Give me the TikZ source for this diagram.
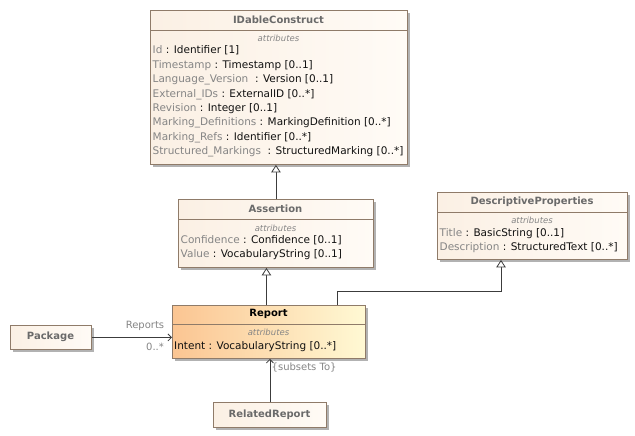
\documentclass[tikz,border=0pt]{standalone}
\usepackage{fontspec}
\setmainfont{DejaVu Sans}
\usetikzlibrary{arrows.meta,shadows}
\definecolor{bordc}{HTML}{8F7B69}
\definecolor{fillA}{HTML}{FBF0E4}
\definecolor{fillB}{HTML}{FFFBF6}
\definecolor{repA}{HTML}{FBC592}
\definecolor{repB}{HTML}{FFF9D4}
\definecolor{titc}{HTML}{6A6A6A}
\definecolor{namec}{HTML}{858585}
\definecolor{typec}{HTML}{111111}
\definecolor{linec}{HTML}{3C3C3C}
\newcommand{\uattr}[2]{{\color{namec}#1} : #2}
\tikzset{
  umlbox/.style={draw=bordc, line width=0.9pt, anchor=north west, inner sep=0pt,
    left color=fillA, right color=fillB,
    drop shadow={shadow xshift=2.5pt, shadow yshift=-2.5pt, fill=black!30, opacity=1}},
  repbox/.style={umlbox, left color=repA, right color=repB},
  divider/.style={draw=bordc, line width=0.9pt},
  titletext/.style={font=\fontsize{10}{12}\selectfont\bfseries, text=titc, inner sep=0pt},
  stereo/.style={font=\fontsize{8.5}{10}\selectfont\itshape, text=namec, inner sep=0pt},
  attrline/.style={font=\fontsize{10.5}{12}\selectfont, text=typec, anchor=base west, inner sep=0pt},
  lbl/.style={font=\fontsize{10}{12}\selectfont, text=namec, inner sep=0pt},
  gen/.style={draw=linec, line width=0.8pt, -{Triangle[length=7.5pt,width=9.5pt,fill=white]}},
  assoc/.style={draw=linec, line width=0.8pt, -{Straight Barb[length=3.5pt,width=7pt]}}
}
\begin{document}
\begin{tikzpicture}[x=1pt,y=-1pt]
\useasboundingbox[fill=white] (0,0) rectangle (635,436);

% IDableConstruct
\node[umlbox, minimum width=257pt, minimum height=154pt] (idc) at (150,10) {};
\draw[divider] ([yshift=-20pt]idc.north west) -- ([yshift=-20pt]idc.north east);
\node[titletext] (idct) at (278.5,20) {IDableConstruct};
\node[stereo] (idcs) at (278.5,38) {attributes};
\node[attrline] (idc1) at (152.5,53.8) {\uattr{Id}{Identifier [1]}};
\node[attrline] (idc2) at (152.5,68.2) {\uattr{Timestamp}{Timestamp [0..1]}};
\node[attrline] (idc3) at (152.5,82.6) {\uattr{Language\_Version }{Version [0..1]}};
\node[attrline] (idc4) at (152.5,97.0) {\uattr{External\_IDs}{ExternalID [0..*]}};
\node[attrline] (idc5) at (152.5,111.4) {\uattr{Revision}{Integer [0..1]}};
\node[attrline] (idc6) at (152.5,125.8) {\uattr{Marking\_Definitions}{MarkingDefinition [0..*]}};
\node[attrline] (idc7) at (152.5,140.2) {\uattr{Marking\_Refs}{Identifier [0..*]}};
\node[attrline] (idc8) at (152.5,154.6) {\uattr{Structured\_Markings }{StructuredMarking [0..*]}};

% Assertion
\node[umlbox, minimum width=195pt, minimum height=68pt] (asr) at (178,199) {};
\draw[divider] ([yshift=-20pt]asr.north west) -- ([yshift=-20pt]asr.north east);
\node[titletext] (asrt) at (275.5,209) {Assertion};
\node[stereo] (asrs) at (275.5,228) {attributes};
\node[attrline] (asr1) at (180.5,243.8) {\uattr{Confidence}{Confidence [0..1]}};
\node[attrline] (asr2) at (180.5,257.8) {\uattr{Value}{VocabularyString [0..1]}};

% DescriptiveProperties
\node[umlbox, minimum width=190pt, minimum height=67pt] (dp) at (437,192) {};
\draw[divider] ([yshift=-20pt]dp.north west) -- ([yshift=-20pt]dp.north east);
\node[titletext] (dpt) at (532,202) {DescriptiveProperties};
\node[stereo] (dps) at (532,220) {attributes};
\node[attrline] (dp1) at (439.5,236.8) {\uattr{Title}{BasicString [0..1]}};
\node[attrline] (dp2) at (439.5,250.8) {\uattr{Description}{StructuredText [0..*]}};

% Report
\node[repbox, minimum width=193pt, minimum height=53pt] (rep) at (172,305) {};
\draw[divider] ([yshift=-19pt]rep.north west) -- ([yshift=-19pt]rep.north east);
\node[titletext, text=black] (rept) at (268.5,314) {Report};
\node[stereo] (reps) at (268.5,332) {attributes};
\node[attrline] (rep1) at (174,349.8) {Intent : VocabularyString [0..*]};

% Package
\node[umlbox, minimum width=81pt, minimum height=24pt] (pkg) at (10,325) {};
\node[titletext] (pkgt) at (50.5,337) {Package};

% RelatedReport
\node[umlbox, minimum width=113pt, minimum height=25pt] (rr) at (213,402) {};
\node[titletext] (rrt) at (269.5,414.5) {RelatedReport};

% connectors
\draw[gen] (asr.north) -- (asr.north |- idc.south);
\draw[gen] ([xshift=-2.5pt]rep.north) -- ([xshift=-2.5pt]rep.north |- asr.south);
\coordinate (dpj) at (501,291);
\draw[gen] ([xshift=68.5pt]rep.north) |- (dpj) -- (dpj |- dp.south);
\draw[assoc] (pkg.east) -- (pkg.east -| rep.west);
\node[lbl] (rlab) at (145,326) {Reports};
\node[lbl] (mlab) at (155,347) {0..*};
\draw[assoc] (rr.north) -- (rr.north |- rep.south);
\node[lbl, anchor=west] (slab) at (271.5,368) {\{subsets To\}};
\end{tikzpicture}
\end{document}
